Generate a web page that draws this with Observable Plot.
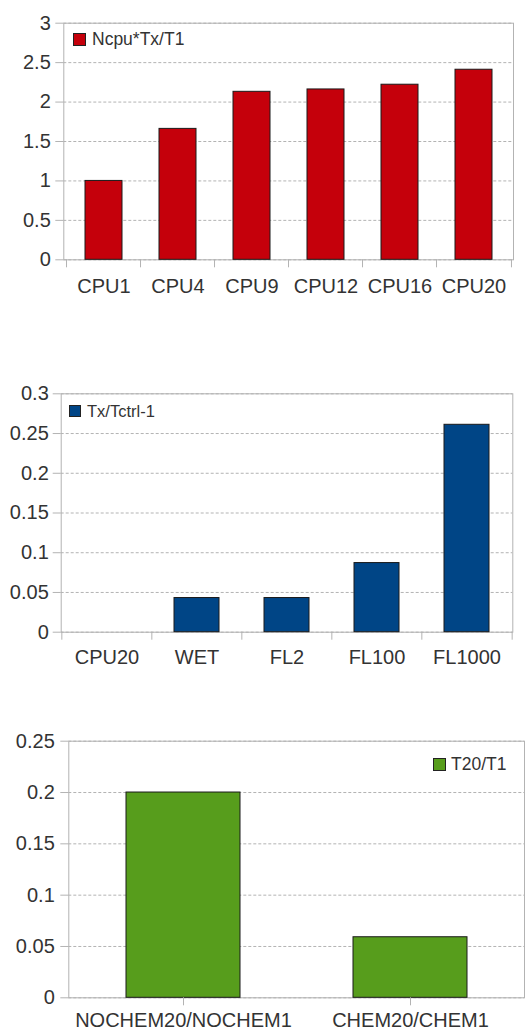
<!DOCTYPE html>
<html>
<head>
<meta charset="utf-8">
<script src="https://cdn.jsdelivr.net/npm/d3@7"></script>
<script src="https://cdn.jsdelivr.net/npm/@observablehq/plot@0.6"></script>
<style>
  html, body { margin: 0; padding: 0; background: #fff; }
  body { font-family: "Liberation Sans", Arial, sans-serif; }
  #wrap { position: relative; width: 526px; height: 1031px; overflow: hidden; }
  .panel { position: absolute; left: 0; width: 526px; }
  .panel svg { display: block; font-family: "Liberation Sans", Arial, sans-serif; }
  .legend { position: absolute; display: flex; align-items: center; color: #333; white-space: nowrap; line-height: 1; }
  .legend .sw { display: inline-block; box-sizing: border-box; border: 1px solid #222; }
</style>
</head>
<body>
<div id="wrap"></div>
<script>
// ---- data ----
const cpuCategories = ["CPU1", "CPU4", "CPU9", "CPU12", "CPU16", "CPU20"];
const cpuValues = [1.0, 1.66, 2.13, 2.16, 2.22, 2.41];
const cpuTicks = [0, 0.5, 1, 1.5, 2, 2.5, 3];
const cpuSeries = "Ncpu*Tx/T1";

const ctrlCategories = ["CPU20", "WET", "FL2", "FL100", "FL1000"];
const ctrlValues = [0, 0.043, 0.043, 0.087, 0.261];
const ctrlTicks = [0, 0.05, 0.1, 0.15, 0.2, 0.25, 0.3];
const ctrlSeries = "Tx/Tctrl-1";

const chemCategories = ["NOCHEM20/NOCHEM1", "CHEM20/CHEM1"];
const chemValues = [0.2, 0.059];
const chemTicks = [0, 0.05, 0.1, 0.15, 0.2, 0.25];
const chemSeries = "T20/T1";

const GRID = "#b3b3b3";
const TEXT = "#333";

function panel(cfg) {
  const data = cfg.categories.map((c, i) => ({cat: c, v: cfg.values[i]}));
  const W = 526;
  const plotW = W - cfg.mL - cfg.mR;
  const plotH = cfg.height - cfg.mT - cfg.mB;
  const step = plotW / cfg.categories.length;
  const marks = [
    Plot.gridY(cfg.ticks, {stroke: GRID, strokeOpacity: 1, strokeDasharray: "3,2"}),
    Plot.frame({stroke: GRID}),
    Plot.barY(data, {x: "cat", y: "v", fill: cfg.color, stroke: "#1a1a1a", strokeWidth: 1}),
    Plot.axisY(cfg.ticks, {tickSize: 8, tickPadding: cfg.yPad, stroke: GRID, fill: TEXT, fontSize: cfg.fontSize, label: null, tickFormat: d => String(d)}),
  ];
  if (cfg.boundaryTicks) {
    marks.push(Plot.axisX({tickSize: 0, tickPadding: cfg.xPad, fill: TEXT, fontSize: cfg.fontSize, label: null}));
    marks.push(Plot.ruleX(cfg.categories, {x: d => d, dx: -step / 2, insetTop: plotH, insetBottom: -8, stroke: GRID}));
    marks.push(Plot.ruleX(cfg.categories.slice(-1), {x: d => d, dx: step / 2, insetTop: plotH, insetBottom: -8, stroke: GRID}));
  } else {
    marks.push(Plot.axisX({tickSize: 8, tickPadding: cfg.xPad, stroke: GRID, fill: TEXT, fontSize: cfg.fontSize, label: null}));
  }
  const chart = Plot.plot({
    width: W,
    height: cfg.height,
    marginTop: cfg.mT,
    marginBottom: cfg.mB,
    marginLeft: cfg.mL,
    marginRight: cfg.mR,
    style: {background: "#fff", color: TEXT, fontFamily: '"Liberation Sans", Arial, sans-serif'},
    x: {domain: cfg.categories, paddingInner: 0.5, paddingOuter: 0.25, label: null, axis: null},
    y: {domain: cfg.yDomain, label: null, axis: null},
    marks
  });
  const div = document.createElement("div");
  div.className = "panel";
  div.style.top = cfg.top + "px";
  div.style.height = cfg.height + "px";
  div.appendChild(chart);
  // legend inside the plot area
  const lg = document.createElement("div");
  lg.className = "legend";
  lg.style.left = cfg.legend.left + "px";
  lg.style.top = cfg.legend.top + "px";
  lg.style.fontSize = cfg.legend.fontSize + "px";
  const sw = document.createElement("span");
  sw.className = "sw";
  sw.style.width = cfg.legend.sw + "px";
  sw.style.height = cfg.legend.sw + "px";
  sw.style.background = cfg.color;
  sw.style.marginRight = cfg.legend.gap + "px";
  const tx = document.createElement("span");
  tx.textContent = cfg.series;
  lg.appendChild(sw);
  lg.appendChild(tx);
  div.appendChild(lg);
  document.getElementById("wrap").appendChild(div);
}

panel({
  top: 0, height: 300, mT: 22.7, mB: 40.7, mL: 63.3, mR: 13,
  categories: cpuCategories, values: cpuValues, ticks: cpuTicks, yDomain: [0, 3],
  color: "#c5000b", series: cpuSeries, boundaryTicks: true,
  fontSize: 20, yPad: 5, xPad: 18.8,
  legend: {left: 73, top: 31, fontSize: 17.5, sw: 13, gap: 6}
});

panel({
  top: 370, height: 300, mT: 23.3, mB: 38.3, mL: 60.7, mR: 13.7,
  categories: ctrlCategories, values: ctrlValues, ticks: ctrlTicks, yDomain: [0, 0.3],
  color: "#004586", series: ctrlSeries, boundaryTicks: true,
  fontSize: 20, yPad: 4.4, xPad: 17.4,
  legend: {left: 69, top: 33, fontSize: 16.5, sw: 12, gap: 6}
});

panel({
  top: 720, height: 311, mT: 20.7, mB: 33.7, mL: 68.3, mR: 2,
  categories: chemCategories, values: chemValues, ticks: chemTicks, yDomain: [0, 0.25],
  color: "#579d1c", series: chemSeries, boundaryTicks: false,
  fontSize: 20, yPad: 6, xPad: 6.5,
  legend: {left: 433, top: 36, fontSize: 17.5, sw: 13, gap: 5}
});
</script>
</body>
</html>
